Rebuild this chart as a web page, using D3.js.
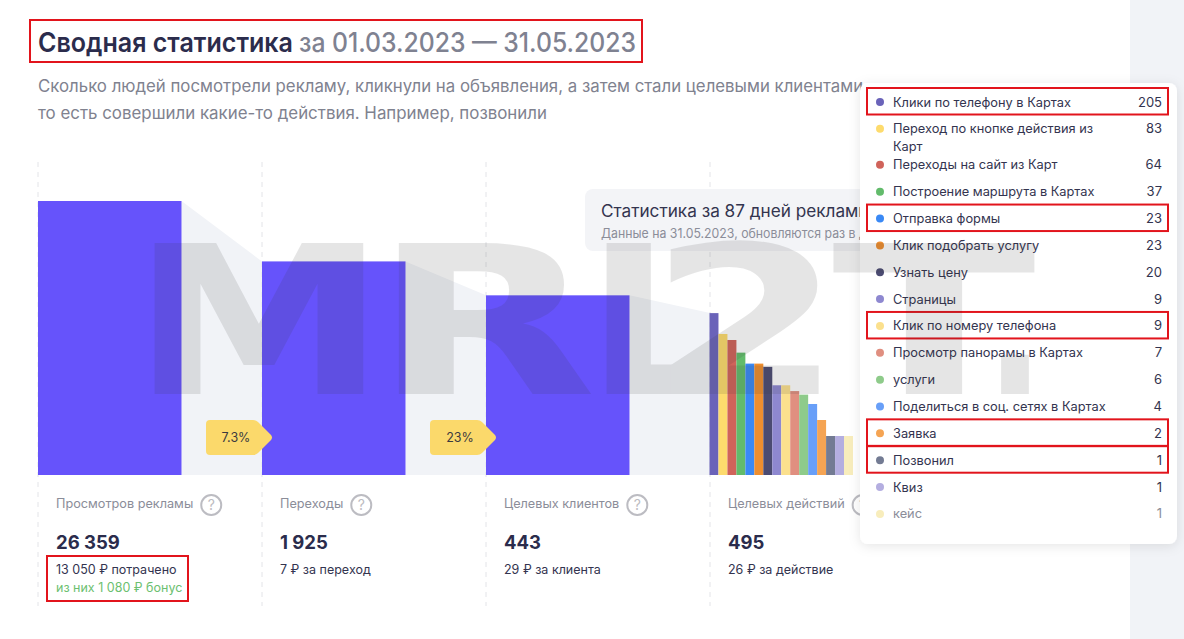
<!DOCTYPE html>
<html><head><meta charset="utf-8">
<script src="https://cdn.jsdelivr.net/npm/d3@7/dist/d3.min.js"></script>
<style>html,body{margin:0;padding:0;background:#fff;overflow:hidden}svg{display:block}text{font-family:Inter,"Noto Sans",sans-serif}</style>
</head><body><svg id="c" width="1184" height="639"></svg>
<script>
const funnelLabels=["Просмотров рекламы","Переходы","Целевых клиентов","Целевых действий"];
const funnelValues=[26359,1925,443];
const funnelTotals=["26 359","1 925","443","495"];
const funnelNotes=["13 050 ₽ потрачено","7 ₽ за переход","29 ₽ за клиента","26 ₽ за действие"];
const conversionLabels=["7.3%","23%"];
const actionLabels=["Клики по телефону в Картах","Переход по кнопке действия из Карт","Переходы на сайт из Карт","Построение маршрута в Картах","Отправка формы","Клик подобрать услугу","Узнать цену","Страницы","Клик по номеру телефона","Просмотр панорамы в Картах","услуги","Поделиться в соц. сетях в Картах","Заявка","Позвонил","Квиз","кейс"];
const actionValues=[205,83,64,37,23,23,20,9,9,7,6,4,2,1,1,1];
const actionColors=["#6a63b9","#fddb6d","#d0635a","#62bb6b","#3a89f5","#ee8e2f","#4b4b72","#8e88d0","#fbe08d","#e08f80","#8ecb8a","#689ff8","#f5a453","#737b93","#b4aee0","#f8edbc"];
const highlighted=["Клики по телефону в Картах","Отправка формы","Клик по номеру телефона","Заявка","Позвонил"];
const wrappedLabel="Переход по кнопке действия из Карт";
const watermarkLetters=["M","R","L","2","T","."];

const svg=d3.select("#c");
const base=475;
const y=d3.scaleLog().domain([1,26359]).range([436,201]);
const x=d3.scaleBand().domain(funnelLabels).range([38,934]);
const barW=143.5;
const xa=d3.scaleBand().domain(actionLabels).range([709.5,853]);
const text=(s,str,px,py,size,fill,weight,anchor,w)=>{const t=s.append("text").attr("x",px).attr("y",py).attr("font-size",size).attr("fill",fill).attr("font-weight",weight||400).attr("text-anchor",anchor||"start").text(str);if(w)t.attr("textLength",w).attr("lengthAdjust","spacingAndGlyphs");return t;};

svg.append("rect").attr("x",1130).attr("y",0).attr("width",54).attr("height",639).attr("fill","#f1f3f7");

const tops=[...funnelValues,actionValues[0]];
const area=d3.area().x(d=>d[0]).y0(base).y1(d=>d[1]);
svg.append("g").selectAll("path").data(d3.range(3)).join("path")
 .attr("d",i=>area([[x(funnelLabels[i])+barW,y(tops[i])],[x(funnelLabels[i+1]),y(tops[i+1])]]))
 .attr("fill","#f1f3f7");

svg.append("g").selectAll("line").data(funnelLabels).join("line")
 .attr("x1",d=>x(d)).attr("x2",d=>x(d)).attr("y1",162).attr("y2",606)
 .attr("stroke","#e3e4e8").attr("stroke-dasharray","5 5");

text(svg,"Сводная статистика",38,52,27,"#2b2c4c",600,"start",255);
text(svg,"за 01.03.2023 — 31.05.2023",299,52,27,"#7f8291",500,"start",337);
text(svg,"Сколько людей посмотрели рекламу, кликнули на объявления, а затем стали целевыми клиентами,",38,92,17,"#80828f",400,"start",830);
text(svg,"то есть совершили какие-то действия. Например, позвонили",38,119,17,"#80828f",400,"start",509);

svg.append("rect").attr("x",585).attr("y",189).attr("width",300).attr("height",62).attr("rx",8).attr("fill","#f3f4f7");
text(svg,"Статистика за 87 дней рекламы",601,217,17,"#33344f",400,"start",270);
text(svg,"Данные на 31.05.2023, обновляются раз в день",601,238,13,"#8b8d99",400,"start",287);

svg.append("g").selectAll("rect").data(funnelValues).join("rect")
 .attr("x",(d,i)=>x(funnelLabels[i])).attr("width",barW)
 .attr("y",d=>y(d)).attr("height",d=>base-y(d)).attr("fill","#6653fb");

svg.append("g").selectAll("rect").data(actionValues).join("rect")
 .attr("x",(d,i)=>xa(actionLabels[i])).attr("width",xa.bandwidth())
 .attr("y",d=>y(d)).attr("height",d=>base-y(d)).attr("fill",(d,i)=>actionColors[i]);

const badge=svg.append("g").selectAll("g").data(conversionLabels).join("g")
 .attr("transform",(d,i)=>`translate(${x(funnelLabels[i+1])-56},420)`);
badge.append("path").attr("d","M4 0H47Q50 0 52 2L65 15Q67 17.500 65 20L52 33Q50 35 47 35H4Q0 35 0 31V4Q0 0 4 0Z").attr("fill","#fbd96b");
badge.append("text").attr("x",30).attr("y",22).attr("text-anchor","middle").attr("font-size",12.500).attr("fill","#3b3a40").text(d=>d);

funnelLabels.forEach((lab,i)=>{
 const lx=x(lab)+18;
 const t=text(svg,lab,lx,508,12.700,"#8b8d99");
 const w=t.node().getComputedTextLength();
 const g=svg.append("g").attr("transform",`translate(${lx+w+18},505)`);
 g.append("circle").attr("r",10).attr("fill","none").attr("stroke","#bcbcc2").attr("stroke-width",2);
 g.append("text").attr("y",5).attr("text-anchor","middle").attr("font-size",14).attr("fill","#bcbcc2").text("?");
 text(svg,funnelTotals[i],lx,549,18.500,"#2b2c4c",700);
 text(svg,funnelNotes[i],lx,574,12.500,"#33344f");
});
text(svg,"из них 1 080 ₽ бонус",56,592,12.500,"#6cc070");
const red=(g,a,b,c,d)=>g.append("rect").attr("x",a).attr("y",b).attr("width",c-a).attr("height",d-b).attr("fill","none").attr("stroke","#e2141c").attr("stroke-width",2);
red(svg,47,556,188,601);
red(svg,30,20,642,62);

svg.append("defs").append("filter").attr("id","sh").attr("x","-10%").attr("y","-10%").attr("width","120%").attr("height","120%")
 .append("feDropShadow").attr("dx",0).attr("dy",2).attr("stdDeviation",6).attr("flood-color","#000").attr("flood-opacity",.1);
svg.append("rect").attr("x",860).attr("y",83).attr("width",317).attr("height",461).attr("rx",8).attr("fill","#fff").attr("filter","url(#sh)");
let rowY=102;
actionLabels.forEach((lab,i)=>{
 const cy=rowY;
 svg.append("circle").attr("cx",880).attr("cy",cy).attr("r",4).attr("fill",actionColors[i]);
 const color=lab==="кейс"?"#8b8d99":"#33344f";
 if(lab===wrappedLabel){
  const sp=lab.split(" из ");
  text(svg,sp[0]+" из",893,cy+4.500,12.800,color);
  text(svg,sp[1],893,cy+22,12.800,color);
 } else text(svg,lab,893,cy+4.500,12.800,color);
 text(svg,actionValues[i],1162,cy+4.500,13,color,400,"end");
 if(highlighted.includes(lab)) red(svg,867,cy-14,1168,cy+12.500);
 rowY+= lab===wrappedLabel?36:26.850;
});

const wm=svg.append("g").attr("opacity",.12).style("pointer-events","none");
const wmPos=[[131,256],[372,225],[585,150],[648,195],[832,204],[985,60]];
watermarkLetters.forEach((l,i)=>{
 wm.append("text").attr("x",wmPos[i][0]).attr("y",394).attr("font-size",207).attr("fill","#333").style("font-family","DejaVu Sans").attr("font-weight",700).attr("textLength",wmPos[i][1]).attr("lengthAdjust","spacingAndGlyphs").text(l);
});
</script></body></html>
